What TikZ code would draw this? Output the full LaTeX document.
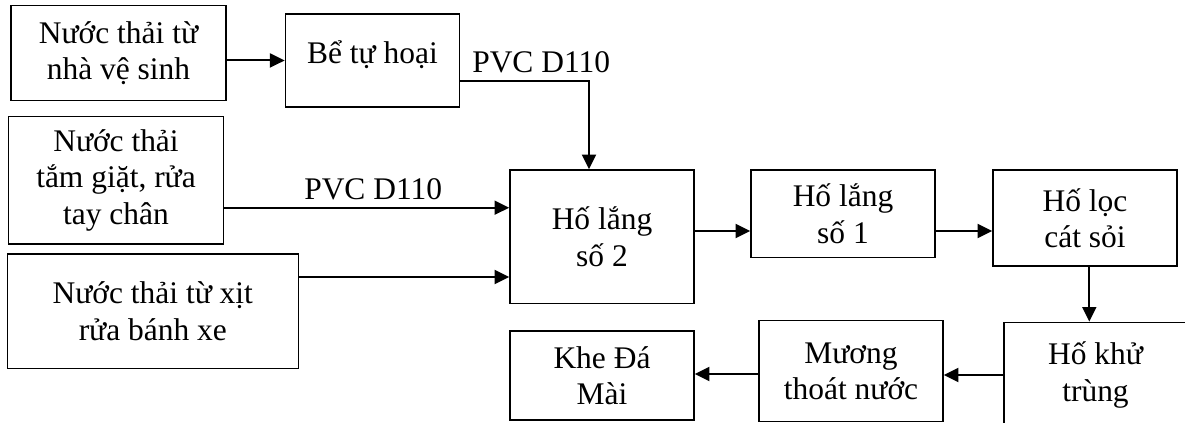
\documentclass[tikz,border=0pt]{standalone}
\usepackage{fontspec}
\setmainfont{Liberation Serif}
\usetikzlibrary{arrows.meta,calc}

\begin{document}
\begin{tikzpicture}[x=0.75pt,y=0.75pt,yscale=-1,xscale=1,
  box/.style={draw, line width=1.2pt, align=center, inner sep=0pt, font=\fontsize{23.6}{27.3}\selectfont},
  flow/.style={line width=1.5pt, -{Triangle[length=11pt,width=10.5pt]}},
  pipe/.style={anchor=base west, inner sep=0pt, font=\fontsize{23.6}{27.3}\selectfont}]
\useasboundingbox (0,0) rectangle (1185,423);

%Shape: Rectangle [sources]
\node [box, minimum width=161.25pt, minimum height=71.25pt] (nhavs) at (118.5,53.2) {Nước thải từ\\nhà vệ sinh};
\node [box, minimum width=130.5pt, minimum height=69.75pt, text height=21pt, text depth=17pt] (betuhoai) at (372.4,60.5) {Bể tự hoại};
\node [box, minimum width=161.25pt, minimum height=95.5pt] (tamgiat) at (116,180.3) {Nước thải\\tắm giặt, rửa\\tay chân};
\node [box, minimum width=218.25pt, minimum height=85.9pt] (xitxe) at (152.8,311.3) {Nước thải từ xịt\\rửa bánh xe};
%Shape: Rectangle [process]
\node [box, minimum width=138pt, minimum height=100pt] (holang2) at (602,236.7) {Hố lắng\\số 2};
\node [box, minimum width=138pt, minimum height=65.5pt] (holang1) at (843,213.7) {Hố lắng\\số 1};
\node [box, minimum width=138pt, minimum height=72pt] (holoc) at (1085,218) {Hố lọc\\cát sỏi};
\node [box, minimum width=137.25pt, minimum height=78.75pt] (khutrung) at (1095.5,375) {Hố khử\\trùng};
\node [box, minimum width=138pt, minimum height=75.75pt] (muong) at (851,371.2) {Mương\\thoát nước};
\node [box, minimum width=138pt, minimum height=66.75pt] (khedamai) at (602,375.5) {Khe Đá\\Mài};

%Straight Lines
\coordinate (ina) at ($(betuhoai.east)+(0,20.8)$);
\coordinate (inb) at ($(holang2.west)+(0,-29)$);
\coordinate (inc) at ($(holang2.west)+(0,40.3)$);
\coordinate (ind) at ($(holang2.east)+(0,-5.7)$);
\coordinate (ine) at ($(holang1.east)+(0,17.3)$);
\coordinate (inf) at ($(holoc.south)+(4.3,0)$);
\coordinate (ing) at ($(muong.west)+(0,2.8)$);
\draw [flow] (nhavs.east |- betuhoai.west) -- (betuhoai.west);
\draw [flow] (ina) -| ($(holang2.north)+(-13,0)$);
\draw [flow] (inb -| tamgiat.east) -- (inb);
\draw [flow] (inc -| xitxe.east) -- (inc);
\draw [flow] (ind) -- (ind -| holang1.west);
\draw [flow] (ine) -- (ine -| holoc.west);
\draw [flow] (inf) -- (inf |- khutrung.north);
\draw [flow] (khutrung.west) -- (khutrung.west -| muong.east);
\draw [flow] (ing) -- (ing -| khedamai.east);

% Text Node
\node [pipe] (pvcup) at (472,72.3) {PVC D110};
% Text Node
\node [pipe] (pvcmid) at (304,200) {PVC D110};

\end{tikzpicture}
\end{document}
